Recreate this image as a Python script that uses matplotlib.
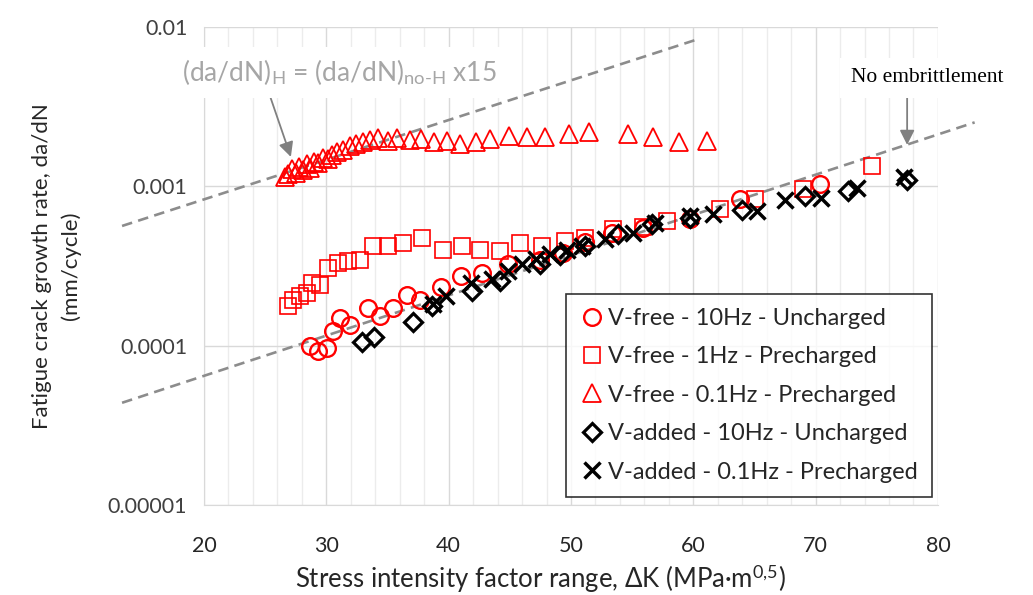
import matplotlib
matplotlib.use('Agg')
import matplotlib.pyplot as plt
from matplotlib.ticker import MultipleLocator, FixedLocator, FixedFormatter

plt.rcParams['font.family'] = ['Lato', 'DejaVu Sans']
plt.rcParams['mathtext.fontset'] = 'custom'
plt.rcParams['mathtext.rm'] = 'Lato'
plt.rcParams['mathtext.it'] = 'Lato:italic'

# V-free - 10Hz - Uncharged
circ_x = [28.67, 29.32, 30.06, 30.55, 31.12, 31.94, 33.41, 34.39, 35.45, 36.60, 37.66,
          39.38, 41.01, 42.73, 44.86, 47.47, 49.35, 51.15, 53.36, 55.90, 59.74, 63.83, 70.37]
circ_y = [1.00e-4, 9.31e-5, 9.72e-5, 1.24e-4, 1.49e-4, 1.35e-4, 1.73e-4, 1.54e-4, 1.73e-4,
          2.08e-4, 1.93e-4, 2.33e-4, 2.73e-4, 2.85e-4, 3.24e-4, 3.43e-4, 3.80e-4, 4.45e-4,
          5.13e-4, 5.51e-4, 6.27e-4, 8.36e-4, 1.04e-3]

# V-free - 1Hz - Precharged
sq_x = [26.87, 27.28, 27.85, 28.42, 28.83, 29.48, 30.14, 30.96, 31.77, 32.76, 33.82, 35.04,
        36.27, 37.82, 39.54, 41.10, 42.57, 44.20, 45.84, 47.64, 49.52, 51.15, 53.44, 55.90,
        57.86, 62.19, 65.05, 68.98, 74.62]
sq_y = [1.78e-4, 1.93e-4, 2.05e-4, 2.14e-4, 2.47e-4, 2.40e-4, 3.06e-4, 3.29e-4, 3.39e-4,
        3.43e-4, 4.20e-4, 4.20e-4, 4.38e-4, 4.71e-4, 3.96e-4, 4.20e-4, 3.96e-4, 3.91e-4,
        4.38e-4, 4.20e-4, 4.51e-4, 4.71e-4, 5.43e-4, 5.59e-4, 6.10e-4, 7.24e-4, 8.36e-4,
        9.65e-4, 1.34e-3]

# V-free - 0.1Hz - Precharged
tri_x = [26.6, 26.9, 27.2, 27.5, 27.8, 28.1, 28.4, 28.7, 29.0, 29.3, 29.7, 30.1, 30.5,
         30.9, 31.4, 31.9, 32.4, 33.0, 33.6, 34.2, 35.0, 35.8, 36.8, 37.7, 38.8, 39.9,
         40.9, 42.2, 43.4, 44.9, 46.4, 47.9, 49.8, 51.5, 54.7, 56.7, 58.8, 61.1]
tri_y = [1.15e-3, 1.20e-3, 1.28e-3, 1.22e-3, 1.33e-3, 1.26e-3, 1.38e-3, 1.30e-3, 1.42e-3,
         1.40e-3, 1.50e-3, 1.48e-3, 1.58e-3, 1.65e-3, 1.70e-3, 1.78e-3, 1.85e-3, 1.90e-3,
         1.95e-3, 2.00e-3, 1.92e-3, 2.02e-3, 1.95e-3, 1.98e-3, 1.90e-3, 1.92e-3, 1.84e-3,
         1.89e-3, 1.98e-3, 2.06e-3, 2.03e-3, 2.03e-3, 2.12e-3, 2.19e-3, 2.12e-3, 2.03e-3,
         1.89e-3, 1.92e-3]

# V-added - 10Hz - Uncharged
dia_x = [32.92, 33.90, 37.09, 38.64, 41.91, 44.20, 47.47, 49.11, 51.15, 53.85, 56.63,
         59.74, 63.99, 69.14, 72.66, 77.48]
dia_y = [1.06e-4, 1.14e-4, 1.41e-4, 1.78e-4, 2.20e-4, 2.54e-4, 3.24e-4, 3.69e-4, 4.20e-4,
         4.99e-4, 5.84e-4, 6.36e-4, 7.14e-4, 8.73e-4, 9.38e-4, 1.10e-3]

# V-added - 0.1Hz - Precharged
x_x = [38.72, 39.79, 41.83, 43.55, 44.86, 46.00, 47.15, 48.29, 49.68, 50.91, 52.79, 55.08,
       56.88, 59.74, 61.62, 65.22, 67.51, 70.45, 73.39, 77.24]
x_y = [1.83e-4, 2.05e-4, 2.47e-4, 2.62e-4, 2.93e-4, 3.24e-4, 3.48e-4, 3.74e-4, 3.96e-4,
       4.20e-4, 4.64e-4, 5.13e-4, 5.92e-4, 6.55e-4, 6.74e-4, 7.04e-4, 8.24e-4, 8.48e-4,
       9.79e-4, 1.15e-3]

# reference trend lines (end points)
noemb_x = [13.3, 83.0]
noemb_y = [4.38e-5, 2.52e-3]
hline_x = [13.3, 60.3]
hline_y = [5.64e-4, 8.35e-3]

ytick_vals = [1e-5, 1e-4, 1e-3, 1e-2]
ytick_labels = ['0.00001', '0.0001', '0.001', '0.01']

fig = plt.figure(figsize=(10.33, 5.95), dpi=100)
ax = fig.add_axes([0.1975, 0.1513, 0.7105, 0.8033])

dash = dict(color='#8c8c8c', lw=1.9, ls=(0, (4, 2.4)), clip_on=False, zorder=4)
ax.plot(noemb_x, noemb_y, **dash)
ax.plot(hline_x, hline_y, **dash)

ax.plot(circ_x, circ_y, 'o', ms=12, mfc='none', mec='#ff0000', mew=1.7, zorder=5,
        label='V-free - 10Hz - Uncharged')
ax.plot(sq_x, sq_y, 's', ms=11, mfc='none', mec='#ff0000', mew=1.2, zorder=5,
        label='V-free - 1Hz - Precharged')
ax.plot(tri_x, tri_y, '^', ms=12.5, mfc='none', mec='#ff0000', mew=1.3, zorder=5,
        label='V-free - 0.1Hz - Precharged')
ax.plot(dia_x, dia_y, 'D', ms=9.5, mfc='none', mec='black', mew=2.3, zorder=6,
        label='V-added - 10Hz - Uncharged')
ax.plot(x_x, x_y, 'x', ms=11.5, mec='black', mew=2.5, zorder=6,
        label='V-added - 0.1Hz - Precharged')

ax.set_yscale('log')
ax.set_ylim(1e-5, 1e-2)
ax.set_xlim(20, 80)
ax.yaxis.set_major_locator(FixedLocator(ytick_vals))
ax.yaxis.set_major_formatter(FixedFormatter(ytick_labels))
ax.yaxis.set_minor_locator(FixedLocator([]))
ax.xaxis.set_major_locator(MultipleLocator(10))
ax.xaxis.set_minor_locator(MultipleLocator(2))

ax.grid(which='major', axis='both', color='#d9d9d9', lw=1.0, zorder=0)
ax.grid(which='minor', axis='x', color='#ececec', lw=1.0, zorder=0)
ax.set_axisbelow(True)
for s in ['top', 'right']:
    ax.spines[s].set_visible(False)
for s in ['left', 'bottom']:
    ax.spines[s].set_color('#d9d9d9')
ax.tick_params(which='both', length=0)
ax.tick_params(axis='x', pad=22, labelsize=15.5, labelcolor='#262626')
ax.tick_params(axis='y', pad=12, labelsize=15.5, labelcolor='#404040')

ax.set_xlabel(r'Stress intensity factor range, ΔK (MPa·m$^{\mathrm{0{,}5}}$)',
              fontsize=18.5, color='#262626', va='center')
ax.xaxis.set_label_coords(0.458, -0.155)
ax.set_ylabel('Fatigue crack growth rate, da/dN\n(mm/cycle)', fontsize=16,
              color='#262626', va='center', linespacing=1.45)
ax.yaxis.set_label_coords(-0.201, 0.5)

ax.annotate(r'(da/dN)$_{\mathrm{H}}$ = (da/dN)$_{\mathrm{no}\text{-}\mathrm{H}}$ x15',
            xy=(27.1, 1.53e-3), xytext=(18.2, 5.2e-3), fontsize=19, color='#a6a6a6',
            ha='left', va='center', zorder=3,
            bbox=dict(boxstyle='square,pad=0.4', fc='white', ec='none'),
            arrowprops=dict(arrowstyle='-|>', color='#808080', lw=1.3,
                            mutation_scale=22, shrinkA=0, shrinkB=0,
                            relpos=(0.27, 0.0)))

ax.annotate('No embrittlement', xy=(77.48, 1.82e-3), xytext=(79.1, 4.8e-3),
            fontsize=15.5, family='Liberation Serif', color='black',
            ha='center', va='center', zorder=3,
            bbox=dict(boxstyle='square,pad=0.5', fc='white', ec='none'),
            arrowprops=dict(arrowstyle='-|>', color='#808080', lw=1.3,
                            mutation_scale=22, shrinkA=0, shrinkB=0,
                            relpos=(0.37, 0.0)))

leg = ax.legend(loc='lower right', bbox_to_anchor=(0.992, 0.017), borderaxespad=0,
                fontsize=17, frameon=True, fancybox=False, edgecolor='black',
                handlelength=1.0, handletextpad=0.2, labelspacing=0.74,
                borderpad=0.6, labelcolor='#262626')
leg.get_frame().set_linewidth(1.2)
leg.set_zorder(7)

plt.savefig('out.png', dpi=100)
